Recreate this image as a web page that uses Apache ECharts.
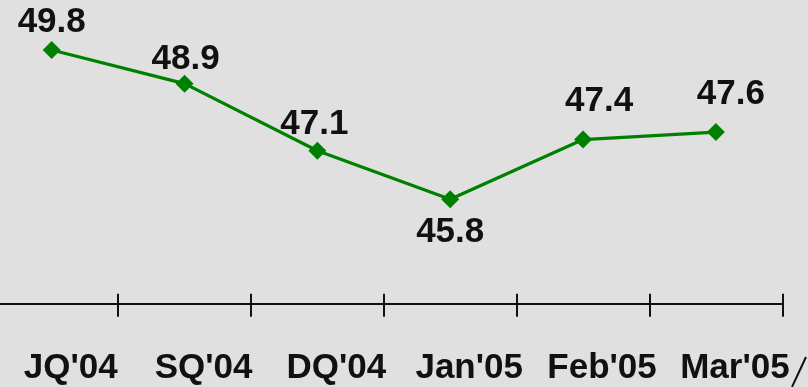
<!DOCTYPE html>
<html>
<head>
<meta charset="utf-8">
<script src="https://cdn.jsdelivr.net/npm/echarts@6/dist/echarts.min.js"></script>
<style>
html, body { margin: 0; padding: 0; background: #e0e0e0; }
#main { width: 808px; height: 387px; }
</style>
</head>
<body>
<div id="main"></div>
<script>
var months = ["JQ'04", "SQ'04", "DQ'04", "Jan'05", "Feb'05", "Mar'05"];
var values = [49.8, 48.9, 47.1, 45.8, 47.4, 47.6];
// where each value label sits, relative to its point
var labelPos = ['top', 'top', 'top', 'bottom', 'top', 'top'];
var labelShift = [[0, 3], [1, 6], [-3, 4], [0, 3], [16, -8], [15, -7]];

var font = '"Liberation Sans", Arial, sans-serif';

var seriesData = values.map(function (v, i) {
    return {
        value: v,
        label: { position: labelPos[i], offset: labelShift[i] }
    };
});

var option = {
    backgroundColor: '#e0e0e0',
    animation: false,
    grid: { left: -14.7, width: 797, top: 5.3, bottom: 83.3, outerBoundsMode: 'none', containLabel: false },
    xAxis: [
        {
            type: 'category',
            data: months,
            position: 'bottom',
            boundaryGap: true,
            axisLine: { lineStyle: { color: '#111', width: 2 } },
            axisTick: { show: true, inside: false, length: 13, interval: 0, lineStyle: { color: '#111', width: 2 } },
            axisLabel: {
                interval: 0,
                hideOverlap: false,
                color: '#111',
                fontFamily: font,
                fontWeight: 'bold',
                fontSize: 35,
                margin: 47,
                padding: [0, 0, 0, 38]
            },
            splitLine: { show: false }
        },
        {
            type: 'category',
            data: months,
            position: 'bottom',
            boundaryGap: true,
            axisLine: { show: false },
            axisTick: { show: true, inside: true, length: 10, interval: 0, lineStyle: { color: '#111', width: 2 } },
            axisLabel: { show: false },
            splitLine: { show: false }
        }
    ],
    yAxis: {
        type: 'value',
        min: 43,
        max: 51,
        show: false
    },
    series: [{
        type: 'line',
        data: seriesData,
        symbol: 'diamond',
        symbolSize: 18,
        lineStyle: { color: '#008000', width: 3.2 },
        itemStyle: { color: '#008000' },
        label: {
            show: true,
            color: '#111',
            fontFamily: font,
            fontWeight: 'bold',
            fontSize: 35,
            distance: 4
        }
    }],
    graphic: [{
        type: 'line',
        shape: { x1: 792, y1: 387, x2: 806, y2: 357 },
        style: { stroke: '#111', lineWidth: 2 }
    }]
};

var myChart = echarts.init(document.getElementById('main'));
myChart.setOption(option);
</script>
</body>
</html>
